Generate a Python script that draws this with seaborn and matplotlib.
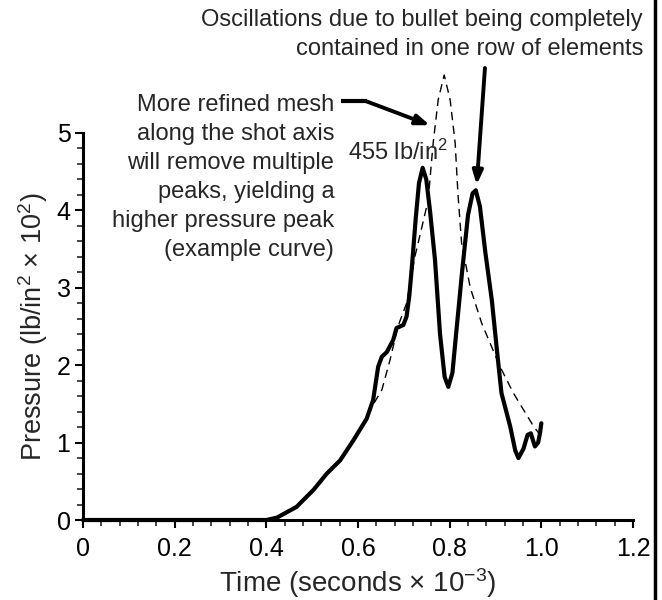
import matplotlib
matplotlib.use("Agg")
import matplotlib.pyplot as plt
import seaborn as sns
import pandas as pd
from matplotlib.lines import Line2D

# ---- data ----
time_solid = [0.0, 0.40, 0.423, 0.466, 0.503, 0.532, 0.561, 0.590, 0.619, 0.633,
              0.644, 0.652, 0.663, 0.677, 0.684, 0.699, 0.706, 0.712, 0.718, 0.726,
              0.733, 0.741, 0.749, 0.757, 0.768, 0.779, 0.789, 0.797, 0.806, 0.814,
              0.827, 0.840, 0.850, 0.857, 0.866, 0.878, 0.892, 0.903, 0.913, 0.932,
              0.943, 0.950, 0.961, 0.970, 0.977, 0.986, 0.993, 0.997, 1.000]
pressure_solid = [0.0, 0.0, 0.03, 0.17, 0.39, 0.60, 0.77, 1.03, 1.31, 1.55,
                  1.98, 2.11, 2.17, 2.33, 2.48, 2.52, 2.63, 2.90, 3.30, 3.90,
                  4.35, 4.55, 4.40, 4.00, 3.36, 2.40, 1.85, 1.72, 1.90, 2.40,
                  3.20, 3.94, 4.22, 4.26, 4.05, 3.45, 2.84, 2.20, 1.64, 1.21,
                  0.90, 0.80, 0.92, 1.10, 1.12, 0.95, 1.00, 1.12, 1.25]

time_refined = [0.0, 0.40, 0.423, 0.466, 0.503, 0.532, 0.561, 0.590, 0.619, 0.626,
                0.652, 0.670, 0.687, 0.706, 0.724, 0.740, 0.753, 0.764, 0.775, 0.788,
                0.801, 0.812, 0.818, 0.826, 0.845, 0.870, 0.910, 0.939, 0.983, 1.000]
pressure_refined = [0.0, 0.0, 0.03, 0.17, 0.39, 0.60, 0.77, 1.03, 1.31, 1.42,
                    1.68, 2.07, 2.50, 2.80, 3.40, 3.80, 4.13, 4.87, 5.43, 5.75,
                    5.43, 4.87, 4.22, 3.58, 3.00, 2.54, 1.98, 1.64, 1.21, 1.08]

x_ticks = [0, 0.2, 0.4, 0.6, 0.8, 1.0, 1.2]
x_tick_labels = ["0", "0.2", "0.4", "0.6", "0.8", "1.0", "1.2"]
y_ticks = [0, 1, 2, 3, 4, 5]

peak_label = "455 lb/in$^2$"
note_left = ("More refined mesh\nalong the shot axis\nwill remove multiple\n"
             "peaks, yielding a\nhigher pressure peak\n(example curve)")
note_top = "Oscillations due to bullet being completely\ncontained in one row of elements"

# ---- style ----
sns.set_style("ticks")
plt.rcParams['font.family'] = ['Liberation Sans', 'DejaVu Sans']
plt.rcParams['mathtext.fontset'] = 'custom'
plt.rcParams['mathtext.rm'] = 'Liberation Sans'
plt.rcParams['mathtext.it'] = 'Liberation Sans'

fig = plt.figure(figsize=(6.62, 6.0), dpi=100)
ax = fig.add_axes([83/662, 1-520/600, 550/662, (520-133)/600])

df_s = pd.DataFrame({"t": time_solid, "p": pressure_solid})
df_r = pd.DataFrame({"t": time_refined, "p": pressure_refined})

sns.lineplot(data=df_r, x="t", y="p", ax=ax, color="black", linewidth=1.0,
             sort=False, estimator=None, clip_on=False, dashes=False,
             linestyle=(0, (6, 4)))
sns.lineplot(data=df_s, x="t", y="p", ax=ax, color="black", linewidth=3.0,
             sort=False, estimator=None, clip_on=False)

ax.set_xlim(0, 1.2)
ax.set_ylim(0, 5)
ax.set_xticks(x_ticks)
ax.set_xticklabels(x_tick_labels)
ax.set_yticks(y_ticks)
ax.xaxis.set_minor_locator(matplotlib.ticker.MultipleLocator(0.04))
ax.yaxis.set_minor_locator(matplotlib.ticker.MultipleLocator(0.2))
ax.tick_params(axis="both", which="major", direction="out", length=6, width=1.5,
               labelsize=18, colors="black")
ax.tick_params(axis="x", which="major", pad=6)
ax.tick_params(axis="y", which="major", pad=3)
ax.tick_params(axis="both", which="minor", direction="out", length=4, width=1.2)
for side in ["top", "right"]:
    ax.spines[side].set_visible(False)
for side in ["left", "bottom"]:
    ax.spines[side].set_linewidth(2.2)
    ax.spines[side].set_color("black")

ax.set_xlabel("Time (seconds × 10$^{-3}$)", fontsize=20, labelpad=4)
ax.set_ylabel("Pressure (lb/in$^2$ × 10$^2$)", fontsize=19.5, labelpad=5)

# annotations
ax.text(0.578, 4.65, peak_label, fontsize=17, ha="left", va="baseline")
ax.text(0.548, 5.50, note_left, fontsize=17, ha="right", va="top",
        linespacing=1.41, clip_on=False)
ax.text(1.222, 6.60, note_top, fontsize=17, ha="right", va="top",
        linespacing=1.42, clip_on=False)

# left arrow: horizontal segment then angled arrow
ax.plot([0.563, 0.620], [5.41, 5.41], color="black", linewidth=3, clip_on=False,
        solid_capstyle="butt")
ax.annotate("", xy=(0.757, 5.10), xytext=(0.618, 5.41),
            arrowprops=dict(arrowstyle="-|>,head_length=0.8,head_width=0.3",
                            color="black", lw=2.8, shrinkA=0, shrinkB=0),
            annotation_clip=False)
# top arrow
ax.annotate("", xy=(0.859, 4.33), xytext=(0.877, 5.84),
            arrowprops=dict(arrowstyle="-|>,head_length=0.8,head_width=0.3",
                            color="black", lw=2.8, shrinkA=0, shrinkB=0),
            annotation_clip=False)

# right page border line
fig.add_artist(Line2D([655/662, 655/662], [0, 1], color="black", linewidth=2.5,
                      transform=fig.transFigure))

fig.savefig("out.png", dpi=100, facecolor="white")
